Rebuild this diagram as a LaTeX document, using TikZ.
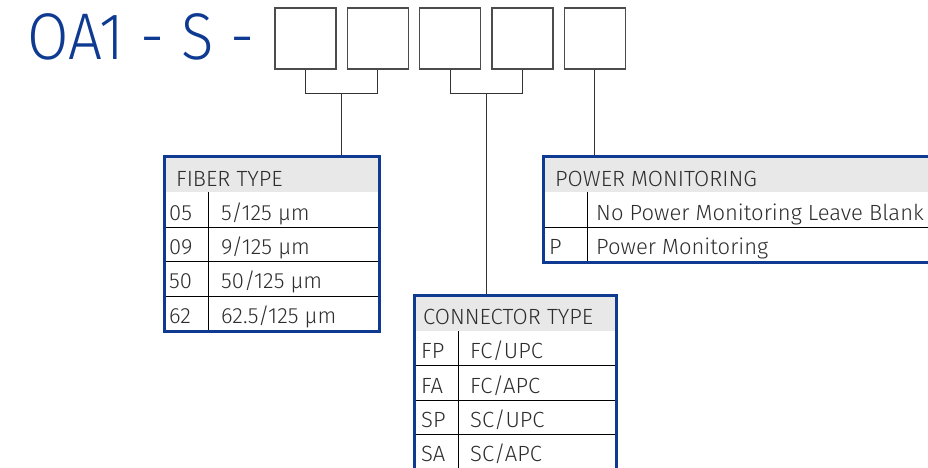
\documentclass[tikz,border=0pt]{standalone}
\usepackage{fontspec}
\setmainfont{Fira Sans}[UprightFont=* Light, Numbers=Lining]
\usetikzlibrary{calc,positioning}
\definecolor{ordBlue}{RGB}{14,58,145}
\definecolor{ordText}{RGB}{45,45,45}
\definecolor{ordHead}{RGB}{232,232,232}
\tikzset{
myDigit/.style={
	rectangle,draw=black!70,line width=1.3pt,fill=white,
	inner sep=0pt,minimum size=61pt
}
, myTable/.style={
	rectangle,draw=ordBlue,line width=3pt,
	inner sep=0pt,anchor=north west
}
, myCell/.style={
	anchor=base west,inner sep=0pt,text=ordText,
	font=\fontsize{22}{22}\selectfont
}
, myTitle/.style={
	anchor=base west,inner sep=0pt,text=ordBlue,
	font=\fontsize{66}{66}\selectfont
}
% lines
, myRule/.style={black,line width=1pt}
, myLink/.style={black!80,line width=1pt}
}

\begin{document}
\begin{tikzpicture}[x=1pt,y=-1pt]
	\useasboundingbox (0,0) rectangle (928,468);
	\clip (0,0) rectangle (928,468);
	% part number
	\node[myTitle] (title) at (27,60) {\scalebox{0.91}[1]{OA1 - S -}};
	\node[myDigit] (d1) at (305.5,38.5) {};
	\node[myDigit, right=10pt of d1] (d2) {};
	\node[myDigit, right=10pt of d2] (d3) {};
	\node[myDigit, right=10pt of d3] (d4) {};
	\node[myDigit, right=10pt of d4] (d5) {};

	% fiber type
	\fill[ordHead] (163,155) rectangle (378,192);
	\foreach \y in {227,261,296}
		\draw[myRule] (163,\y) -- (378,\y);
	\draw[myRule] (208,192) -- (208,330);
	\node[myTable, minimum width=215pt, minimum height=175pt] (fiber) at (163,155) {};
	\node[myCell] (fiberHead) at (176,186) {FIBER TYPE};
	\node[myCell] (f05) at (169,220) {05};
	\node[myCell] (f09) at (169,254) {09};
	\node[myCell] (f50) at (169,288) {50};
	\node[myCell] (f62) at (169,323) {62};
	\node[myCell] (f05d) at (221,220) {5/125 µm};
	\node[myCell] (f09d) at (221,254) {9/125 µm};
	\node[myCell] (f50d) at (221,288) {50/125 µm};
	\node[myCell] (f62d) at (221,323) {62.5/125 µm};

	% connector type
	\fill[ordHead] (413,294) rectangle (615,331);
	\foreach \y in {365,400,434}
		\draw[myRule] (413,\y) -- (615,\y);
	\draw[myRule] (458,331) -- (458,500);
	\node[myTable, minimum width=202pt, minimum height=210pt] (conn) at (413,294) {};
	\node[myCell] (connHead) at (423,324) {CONNECTOR TYPE};
	\node[myCell] (cFP) at (421,358) {FP};
	\node[myCell] (cFA) at (421,393) {FA};
	\node[myCell] (cSP) at (421,427) {SP};
	\node[myCell] (cSA) at (421,461) {SA};
	\node[myCell] (cFPd) at (470,358) {FC/UPC};
	\node[myCell] (cFAd) at (470,393) {FC/APC};
	\node[myCell] (cSPd) at (470,427) {SC/UPC};
	\node[myCell] (cSAd) at (470,461) {SC/APC};

	% power monitoring
	\fill[ordHead] (542,155) rectangle (945,192);
	\draw[myRule] (542,227) -- (945,227);
	\draw[myRule] (587,192) -- (587,261);
	\node[myTable, minimum width=400pt, minimum height=106pt] (power) at (542,155) {};
	\node[myCell] (powerHead) at (555,186) {POWER MONITORING};
	\node[myCell] (pP) at (549,254) {P};
	\node[myCell] (pNoneD) at (596,220) {No Power Monitoring Leave Blank};
	\node[myCell] (pPd) at (596,254) {Power Monitoring};

	% links
	\coordinate (fiberJoin) at ($(d1.south)!0.5!(d2.south)+(0,24)$);
	\coordinate (connJoin) at ($(d3.south)!0.5!(d4.south)+(0,24)$);
	\draw[myLink] (d1.south) |- (fiberJoin) -| (d2.south);
	\draw[myLink] (fiberJoin) -- (fiberJoin |- fiber.north);
	\draw[myLink] (d3.south) |- (connJoin) -| (d4.south);
	\draw[myLink] (connJoin) -- (connJoin |- conn.north);
	\draw[myLink] (d5.south) -- (d5.south |- power.north);
\end{tikzpicture}
\end{document}
